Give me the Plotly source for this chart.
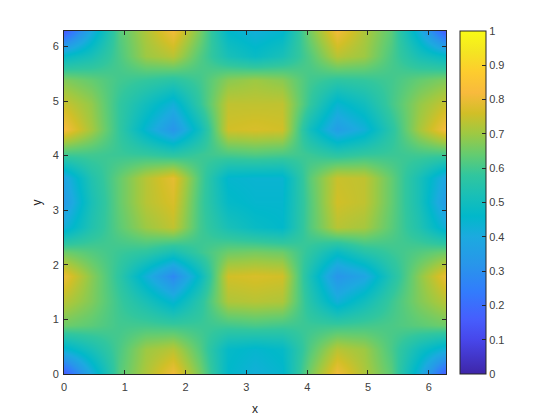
import plotly.graph_objs as go

# grid nodes
x_nodes = [0, 0.449, 0.898, 1.346, 1.795, 2.244, 2.693, 3.142, 3.590, 4.039, 4.488, 4.937, 5.386, 5.834, 6.283]
y_nodes = [0, 0.449, 0.898, 1.346, 1.795, 2.244, 2.693, 3.142, 3.590, 4.039, 4.488, 4.937, 5.386, 5.834, 6.283]

# one row per y node, bottom row first
z_rows = [
    [.15, .40, .62, .72, .81, .66, .46, .42, .45, .66, .81, .72, .63, .42, .15],
    [.44, .52, .61, .70, .73, .62, .47, .45, .47, .62, .73, .70, .61, .50, .42],
    [.65, .63, .60, .60, .59, .59, .60, .61, .60, .59, .59, .60, .61, .63, .65],
    [.73, .67, .59, .52, .44, .56, .72, .73, .72, .55, .42, .50, .59, .67, .73],
    [.80, .68, .57, .42, .28, .48, .76, .77, .76, .52, .32, .38, .54, .68, .80],
    [.65, .62, .59, .57, .52, .59, .65, .66, .65, .57, .48, .55, .59, .62, .65],
    [.42, .54, .63, .70, .74, .60, .52, .48, .46, .62, .73, .71, .63, .54, .42],
    [.34, .52, .64, .73, .77, .60, .47, .45, .45, .62, .76, .74, .64, .52, .34],
    [.38, .54, .64, .73, .79, .61, .45, .44, .44, .63, .75, .74, .64, .52, .38],
    [.60, .60, .59, .58, .56, .59, .61, .62, .61, .59, .56, .58, .59, .60, .60],
    [.82, .71, .58, .44, .32, .50, .76, .77, .76, .50, .35, .42, .56, .71, .82],
    [.75, .69, .58, .50, .42, .58, .74, .74, .74, .58, .44, .50, .60, .69, .75],
    [.67, .64, .60, .58, .56, .60, .68, .70, .68, .60, .57, .58, .60, .64, .67],
    [.47, .52, .61, .70, .73, .62, .52, .48, .52, .62, .73, .70, .61, .52, .47],
    [.15, .40, .62, .72, .81, .66, .46, .42, .45, .66, .81, .72, .63, .42, .15],
]

x_ticks = [0, 1, 2, 3, 4, 5, 6]
y_ticks = [0, 1, 2, 3, 4, 5, 6]
bar_ticks = [0, .1, .2, .3, .4, .5, .6, .7, .8, .9, 1]
bar_labels = ['0', '0.1', '0.2', '0.3', '0.4', '0.5', '0.6', '0.7', '0.8', '0.9', '1']

# parula
parula = [
    [0.00, 'rgb(62,38,168)'], [0.10, 'rgb(71,71,235)'], [0.16, 'rgb(70,94,253)'],
    [0.24, 'rgb(50,124,252)'], [0.32, 'rgb(40,150,234)'], [0.40, 'rgb(28,170,223)'],
    [0.46, 'rgb(1,184,202)'], [0.52, 'rgb(25,191,183)'], [0.58, 'rgb(49,198,158)'],
    [0.64, 'rgb(100,204,112)'], [0.70, 'rgb(157,201,67)'], [0.76, 'rgb(209,191,39)'],
    [0.82, 'rgb(248,186,61)'], [0.88, 'rgb(253,204,46)'], [0.94, 'rgb(244,229,34)'],
    [1.00, 'rgb(249,251,21)'],
]

tick_font = dict(family='Liberation Sans, Arial', size=11, color='#404040')
title_font = dict(family='Liberation Sans, Arial', size=12, color='#262626')

data = [go.Heatmap(x=x_nodes, y=y_nodes, z=z_rows, zmin=0, zmax=1, zsmooth='best',
                   colorscale=parula,
                   colorbar=dict(x=1.0366, xanchor='left', xpad=0, y=0, yanchor='bottom', ypad=0,
                                 len=1, thickness=26, outlinewidth=1, outlinecolor='#262626',
                                 tickmode='array', tickvals=bar_ticks, ticktext=bar_labels,
                                 ticks='inside', ticklen=4, tickcolor='#262626', tickfont=tick_font))]

axis = dict(showgrid=False, zeroline=False, showline=True, linecolor='#262626', linewidth=1,
            mirror='ticks', ticks='inside', ticklen=4, tickcolor='#262626', tickfont=tick_font,
            automargin=False, range=[0, 6.283])

layout = go.Layout(width=560, height=420, margin=dict(l=64, r=114, t=31, b=46),
                   paper_bgcolor='white', plot_bgcolor='white',
                   xaxis=dict(axis, tickvals=x_ticks, ticklabelstandoff=3,
                              title=dict(text='x', font=title_font, standoff=12)),
                   yaxis=dict(axis, tickvals=y_ticks, ticklabelstandoff=2,
                              title=dict(text='y', font=title_font, standoff=8)))

fig = go.Figure(data=data, layout=layout)
fig.write_html("out.html", config=dict(displayModeBar=False),
               post_script="document.body.style.margin='0';")
